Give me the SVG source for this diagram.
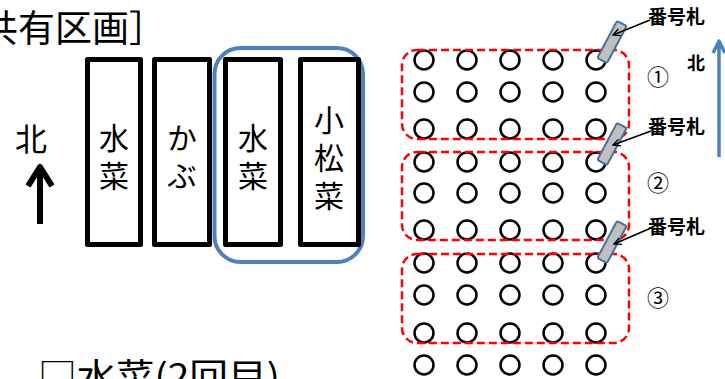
<svg xmlns="http://www.w3.org/2000/svg" width="725" height="379" viewBox="0 0 725 379">
<defs>
<style>
.t{font-family:"Noto Sans CJK JP","Noto Sans CJK SC",sans-serif;fill:#000}
.bed{fill:#fff;stroke:#000;stroke-width:5;stroke-linejoin:round}
.v{font-size:30px;writing-mode:vertical-rl;letter-spacing:8px}
.c{fill:none;stroke:#000;stroke-width:2.5}
.grp{fill:none;stroke:#FF0000;stroke-width:2.5;stroke-dasharray:8 4}
.tag{fill:#BFBFBF;stroke:#41719C;stroke-width:2}
.lbl{font-size:19px;font-weight:bold}
.num{font-size:22px;text-anchor:middle}
.ptr{fill:none;stroke:#000;stroke-width:1.5}
</style>
<marker id="ah" viewBox="0 0 10 10" refX="9" refY="5" markerWidth="9" markerHeight="9" markerUnits="userSpaceOnUse" orient="auto">
<path d="M1,1 L9,5 L1,9" fill="none" stroke="#000" stroke-width="1.5"/>
</marker>
<circle id="o" r="9.5" class="c"/>
<rect id="tg" x="-5.5" y="-21" width="11" height="42" rx="2" class="tag"/>
</defs>
<rect width="725" height="379" fill="#fff"/>

<g id="title"><text class="t" x="-19" y="42" font-size="37">共有区画］</text></g>

<g id="north-left">
<text class="t" x="31" y="151" font-size="32" text-anchor="middle">北</text>
<path d="M40,224 V168 M28,186 L40,167 L52,186" fill="none" stroke="#000" stroke-width="6" stroke-linejoin="round"/>
</g>

<g id="highlight"><rect x="214.5" y="48" width="148.5" height="214" rx="26" fill="none" stroke="#4F81BD" stroke-width="4"/></g>

<g id="bed1"><rect class="bed" x="87.5" y="59.5" width="53" height="185"/>
<text class="t v" x="114" y="123">水菜</text></g>
<g id="bed2"><rect class="bed" x="154.5" y="59.5" width="55" height="185"/>
<text class="t v" x="182" y="123">かぶ</text></g>
<g id="bed3"><rect class="bed" x="225.5" y="59.5" width="55" height="185"/>
<text class="t v" x="253" y="123">水菜</text></g>
<g id="bed4"><rect class="bed" x="300.5" y="59.5" width="58" height="185"/>
<text class="t v" x="329" y="105">小松菜</text></g>

<g id="subtitle"><text class="t" x="38" y="389" font-size="35" textLength="242" lengthAdjust="spacingAndGlyphs">□水菜(2回目)</text></g>

<g id="plants">
<g id="r1"><use href="#o" x="424" y="60"/><use href="#o" x="467" y="60"/><use href="#o" x="510" y="60"/><use href="#o" x="553" y="60"/><use href="#o" x="596" y="60"/></g>
<g id="r2"><use href="#o" x="424" y="92"/><use href="#o" x="467" y="92"/><use href="#o" x="510" y="92"/><use href="#o" x="553" y="92"/><use href="#o" x="596" y="92"/></g>
<g id="r3"><use href="#o" x="424" y="129"/><use href="#o" x="467" y="129"/><use href="#o" x="510" y="129"/><use href="#o" x="553" y="129"/><use href="#o" x="596" y="129"/></g>
<g id="r4"><use href="#o" x="424" y="162"/><use href="#o" x="467" y="162"/><use href="#o" x="510" y="162"/><use href="#o" x="553" y="162"/><use href="#o" x="596" y="162"/></g>
<g id="r5"><use href="#o" x="424" y="193"/><use href="#o" x="467" y="193"/><use href="#o" x="510" y="193"/><use href="#o" x="553" y="193"/><use href="#o" x="596" y="193"/></g>
<g id="r6"><use href="#o" x="424" y="230"/><use href="#o" x="467" y="230"/><use href="#o" x="510" y="230"/><use href="#o" x="553" y="230"/><use href="#o" x="596" y="230"/></g>
<g id="r7"><use href="#o" x="424" y="263"/><use href="#o" x="467" y="263"/><use href="#o" x="510" y="263"/><use href="#o" x="553" y="263"/><use href="#o" x="596" y="263"/></g>
<g id="r8"><use href="#o" x="424" y="295"/><use href="#o" x="467" y="295"/><use href="#o" x="510" y="295"/><use href="#o" x="553" y="295"/><use href="#o" x="596" y="295"/></g>
<g id="r9"><use href="#o" x="424" y="333"/><use href="#o" x="467" y="333"/><use href="#o" x="510" y="333"/><use href="#o" x="553" y="333"/><use href="#o" x="596" y="333"/></g>
<g id="r10"><use href="#o" x="424" y="365"/><use href="#o" x="467" y="365"/><use href="#o" x="510" y="365"/><use href="#o" x="553" y="365"/><use href="#o" x="596" y="365"/></g>
</g>

<g id="group1"><rect class="grp" x="402" y="50" width="227" height="89" rx="15"/><text class="t num" x="658" y="85">①</text></g>
<g id="group2"><rect class="grp" x="402" y="152" width="227" height="88" rx="15"/><text class="t num" x="658" y="191">②</text></g>
<g id="group3"><rect class="grp" x="402" y="254" width="227" height="89" rx="15"/><text class="t num" x="658" y="306">③</text></g>

<g id="tag1"><use href="#tg" transform="translate(612,42) rotate(28)"/><text class="t lbl" x="648" y="24">番号札</text></g>
<g id="tag2"><use href="#tg" transform="translate(612,144) rotate(28)"/><text class="t lbl" x="648" y="134">番号札</text></g>
<g id="tag3"><use href="#tg" transform="translate(612,242) rotate(28)"/><text class="t lbl" x="648" y="234">番号札</text></g>

<g id="north-right">
<text class="t" x="696" y="70" font-size="18" font-weight="bold" text-anchor="middle">北</text>
<path d="M719,157 V42 M713,53 L719,41 L725,53" fill="none" stroke="#4F81BD" stroke-width="3.5" stroke-linejoin="round"/>
</g>

<g id="connectors">
<line class="ptr" x1="650" y1="20" x2="613" y2="35" marker-end="url(#ah)"/>
<line class="ptr" x1="651" y1="131" x2="613" y2="145" marker-end="url(#ah)"/>
<line class="ptr" x1="651" y1="228" x2="614" y2="244" marker-end="url(#ah)"/>
</g>
</svg>
